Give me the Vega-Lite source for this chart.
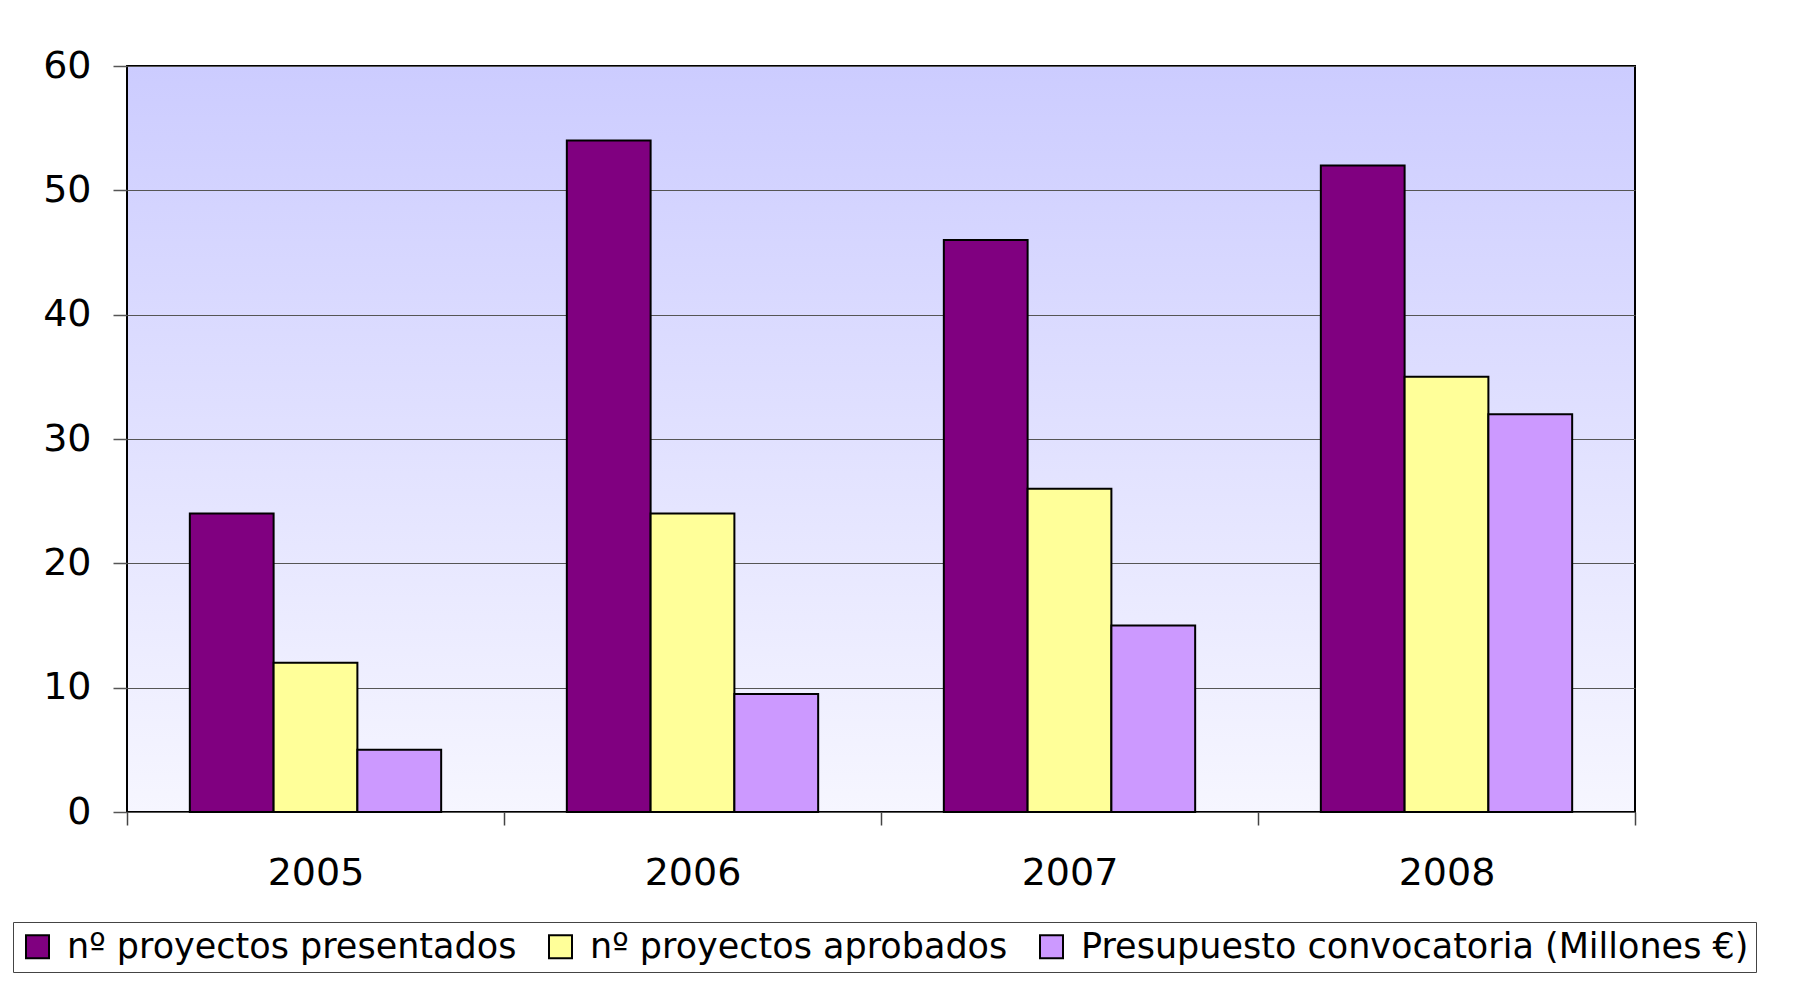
{
  "$schema": "https://vega.github.io/schema/vega-lite/v6.json",
  "width": 1508,
  "height": 746,
  "autosize": {"type": "none"},
  "padding": {"left": 127, "top": 66, "right": 159, "bottom": 181},
  "background": "white",
  "view": {
    "fill": {"gradient": "linear", "x1": 0, "y1": 0, "x2": 0, "y2": 1,
      "stops": [{"offset": 0, "color": "#CCCCFF"}, {"offset": 1, "color": "#F6F6FF"}]},
    "stroke": "black",
    "strokeWidth": 2
  },
  "data": {
    "values": [
      {"anio": "2005", "serie": "nº proyectos presentados", "valor": 24},
      {"anio": "2005", "serie": "nº proyectos aprobados", "valor": 12},
      {"anio": "2005", "serie": "Presupuesto convocatoria (Millones €)", "valor": 5},
      {"anio": "2006", "serie": "nº proyectos presentados", "valor": 54},
      {"anio": "2006", "serie": "nº proyectos aprobados", "valor": 24},
      {"anio": "2006", "serie": "Presupuesto convocatoria (Millones €)", "valor": 9.5},
      {"anio": "2007", "serie": "nº proyectos presentados", "valor": 46},
      {"anio": "2007", "serie": "nº proyectos aprobados", "valor": 26},
      {"anio": "2007", "serie": "Presupuesto convocatoria (Millones €)", "valor": 15},
      {"anio": "2008", "serie": "nº proyectos presentados", "valor": 52},
      {"anio": "2008", "serie": "nº proyectos aprobados", "valor": 35},
      {"anio": "2008", "serie": "Presupuesto convocatoria (Millones €)", "valor": 32}
    ]
  },
  "mark": {"type": "bar", "stroke": "black", "strokeWidth": 2, "strokeJoin": "miter"},
  "encoding": {
    "x": {
      "field": "anio", "type": "nominal", "title": null,
      "scale": {"paddingInner": 0, "paddingOuter": 0},
      "axis": {
        "labelAngle": 0, "labelFont": "DejaVu Sans", "labelFontSize": 38, "labelColor": "black",
        "labelPadding": 29, "tickBand": "extent", "tickSize": 13, "tickColor": "#444", "tickWidth": 1.5,
        "domain": false, "grid": false
      }
    },
    "xOffset": {
      "field": "serie", "type": "nominal",
      "sort": ["nº proyectos presentados", "nº proyectos aprobados", "Presupuesto convocatoria (Millones €)"],
      "scale": {"paddingInner": 0, "paddingOuter": 0.75}
    },
    "y": {
      "field": "valor", "type": "quantitative", "title": null,
      "scale": {"domain": [0, 60], "nice": false},
      "axis": {
        "values": [0, 10, 20, 30, 40, 50, 60],
        "labelFont": "DejaVu Sans", "labelFontSize": 38, "labelColor": "black",
        "labelPadding": 22, "tickSize": 14, "tickColor": "#555", "tickWidth": 1.5,
        "domain": false, "grid": true, "gridColor": "#555", "gridWidth": 1, "gridOpacity": 1
      }
    },
    "color": {
      "field": "serie", "type": "nominal",
      "scale": {
        "domain": ["nº proyectos presentados", "nº proyectos aprobados", "Presupuesto convocatoria (Millones €)"],
        "range": ["#800080", "#FFFF99", "#CC99FF"]
      },
      "legend": {
        "title": null, "orient": "none", "legendX": -114, "legendY": 856,
        "direction": "horizontal", "columns": 3,
        "strokeColor": "#444", "fillColor": "white",
        "padding": 7,
        "symbolType": "square", "symbolSize": 529, "symbolStrokeColor": "black", "symbolStrokeWidth": 2,
        "symbolOpacity": 1,
        "labelFont": "DejaVu Sans", "labelFontSize": 35, "labelColor": "black", "labelOffset": 12,
        "labelLimit": 800, "columnPadding": 26
      }
    }
  }
}
